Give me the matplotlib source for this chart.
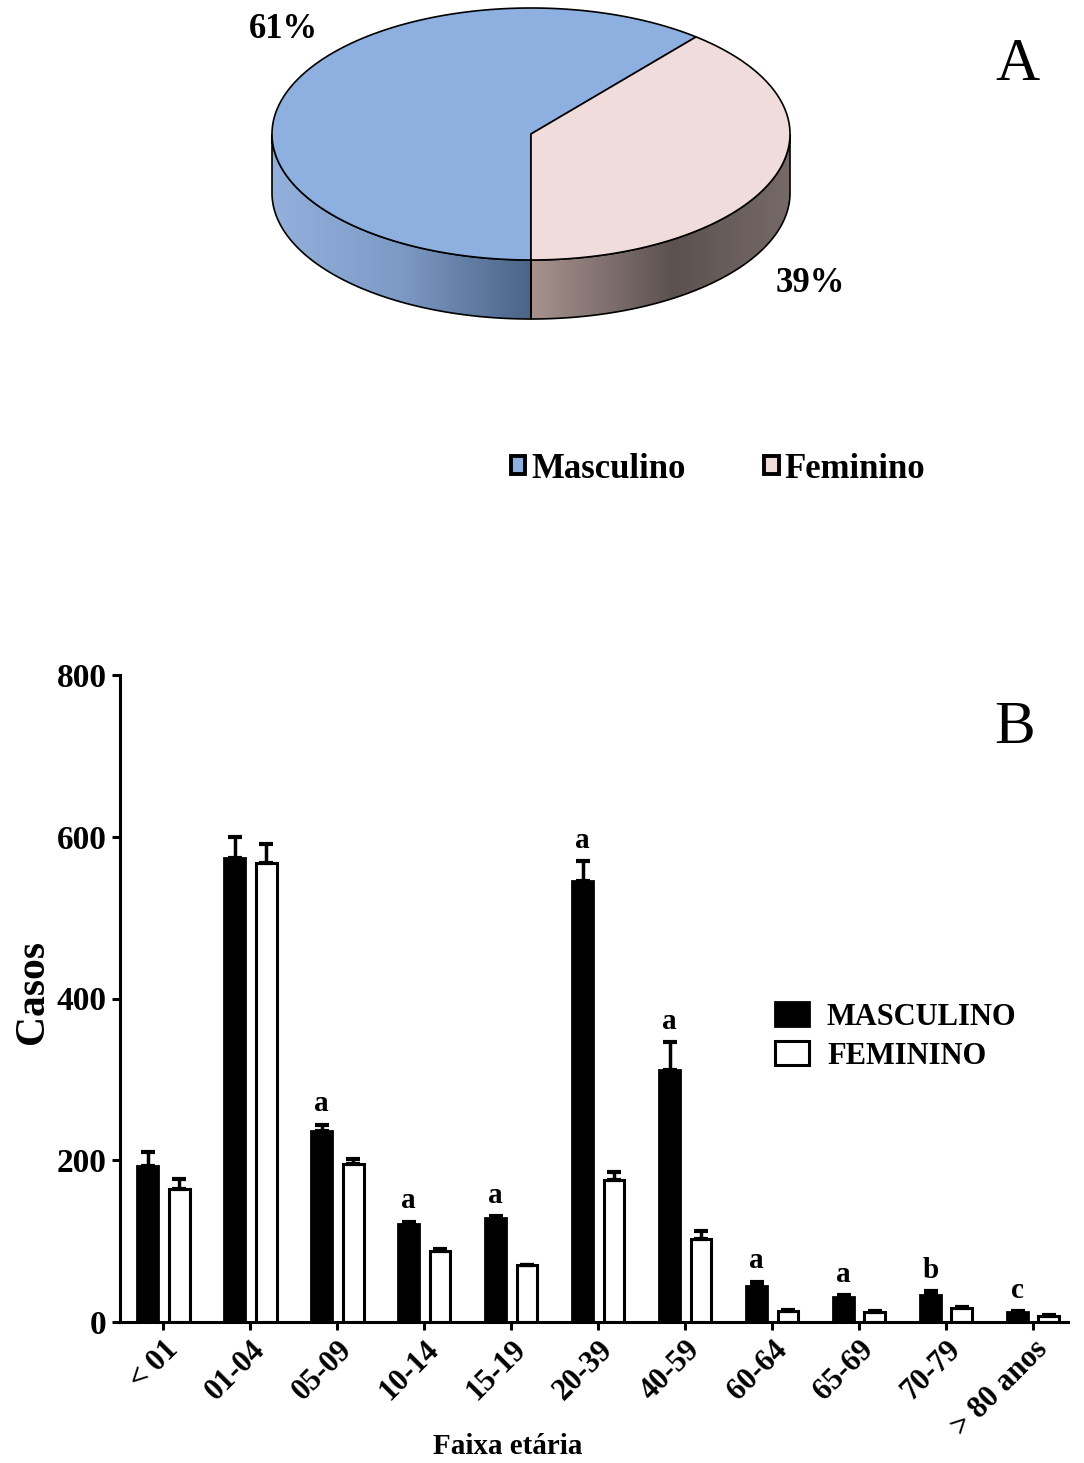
import numpy as np
import matplotlib
matplotlib.use("Agg")
import matplotlib.pyplot as plt
from matplotlib.patches import Polygon, Patch
from matplotlib.colors import LinearSegmentedColormap

plt.rcParams['font.family'] = ['Liberation Serif', 'DejaVu Serif']
plt.rcParams['font.weight'] = 'bold'

# Data (A): share of cases by sex
sexes = ["Masculino", "Feminino"]
sex_pct = [61, 39]

# Data (B): cases by age group
age_groups = ["< 01", "01-04", "05-09", "10-14", "15-19", "20-39",
              "40-59", "60-64", "65-69", "70-79", "> 80 anos"]
male_cases = [193, 574, 236, 121, 129, 545, 311, 44, 31, 34, 12]
male_err = [17, 26, 8, 3, 2, 25, 35, 6, 2, 4, 1]
female_cases = [165, 568, 195, 88, 70, 176, 103, 14, 12, 17, 8]
female_err = [12, 23, 6, 2, 1, 10, 10, 1, 1, 1, 1]
male_letters = ["", "", "a", "a", "a", "a", "a", "a", "a", "b", "c"]

blue_top = '#8db0e0'
pink_top = '#f0dcdb'

W, H = 1084, 1463
fig = plt.figure(figsize=(W / 100, H / 100), dpi=100)

# ---- A: 3D-looking pie ----
ax_pie = fig.add_axes([0, 1 - 360 / H, 1, 360 / H])
ax_pie.set_xlim(0, W)
ax_pie.set_ylim(360, 0)
ax_pie.axis('off')

cx, cy, a, b, depth = 531, 134, 259, 126, 59


def ell(t_deg):
    t = np.radians(t_deg)
    return cx + a * np.cos(t), cy - b * np.sin(t)


fracs = np.array(sex_pct) / sum(sex_pct)
t_fem0 = 270.0
t_fem1 = t_fem0 + 360 * fracs[1]
slices = [(t_fem1 - 360, t_fem0), (t_fem0, t_fem1)]  # Masculino, Feminino
side_cmaps = [
    LinearSegmentedColormap.from_list('bs', ['#93b1dc', '#7d9ac5', '#4b6487']),
    LinearSegmentedColormap.from_list('ps', [(0, '#a8928f'), (0.55, '#5b5250'), (1, '#756a67')]),
]

# side walls (only the front half is visible)
for (t0, t1), cmap in zip(slices, side_cmaps):
    lo, hi = max(t0, 180), min(t1, 360)
    if hi <= lo:
        continue
    ts = np.linspace(lo, hi, 200)
    xs, ys = ell(ts)
    pts = np.vstack([np.column_stack([xs, ys]), np.column_stack([xs[::-1], ys[::-1] + depth])])
    poly = Polygon(pts, closed=True, facecolor='none', edgecolor='black', lw=1.2, zorder=3)
    ax_pie.add_patch(poly)
    grad = cmap(np.linspace(0, 1, 256))[None, :, :3]
    im = ax_pie.imshow(grad, extent=[xs.min(), xs.max(), ys.max() + depth, ys.min()],
                       aspect='auto', zorder=2)
    im.set_clip_path(poly)

# top face
for (t0, t1), col in zip(slices, [blue_top, pink_top]):
    ts = np.linspace(t0, t1, 300)
    xs, ys = ell(ts)
    pts = np.vstack([[cx, cy], np.column_stack([xs, ys])])
    ax_pie.add_patch(Polygon(pts, closed=True, facecolor=col, edgecolor='black', lw=1.2, zorder=4))

ax_pie.set_xlim(0, W)
ax_pie.set_ylim(360, 0)
ax_pie.text(283, 30, f"{sex_pct[0]}%", fontsize=25, ha='center', va='center')
ax_pie.text(810, 283, f"{sex_pct[1]}%", fontsize=25, ha='center', va='center')

fig.legend(handles=[Patch(facecolor=blue_top, edgecolor='black', lw=2.8),
                    Patch(facecolor=pink_top, edgecolor='black', lw=2.8)],
           labels=sexes, loc='center', bbox_to_anchor=(718 / W, 1 - 469 / H), ncol=2,
           frameon=False, fontsize=25, handlelength=0.42, handleheight=0.42,
           handletextpad=0.18, columnspacing=2.25)

fig.text(1018 / W, 1 - 65 / H, 'A', fontsize=44, fontweight='normal', ha='center', va='center')

# ---- B: bars by age group ----
ax = fig.add_axes([120 / W, 141 / H, 948 / W, 647 / H])
x = np.arange(len(age_groups))
n = len(x)
bw = 0.24
off = 0.18

ax.bar(x - off, male_cases, bw, color='black', edgecolor='black', lw=2, label='MASCULINO')
ax.bar(x + off, female_cases, bw, color='white', edgecolor='black', lw=2.2, label='FEMININO')
ax.errorbar(x - off, male_cases, yerr=[np.zeros(n), male_err], fmt='none', ecolor='black',
            elinewidth=2.5, capsize=5, capthick=3)
ax.errorbar(x + off, female_cases, yerr=[np.zeros(n), female_err], fmt='none', ecolor='black',
            elinewidth=2.5, capsize=5, capthick=3)

for i, s in enumerate(male_letters):
    if s:
        ax.annotate(s, (x[i] - off, male_cases[i] + male_err[i]), xytext=(0, 15),
                    textcoords='offset points', ha='center', va='center', fontsize=21)

ax.set_xlim(-0.5, 10.4)
ax.set_ylim(0, 800)
ax.set_yticks([0, 200, 400, 600, 800])
ax.set_xticks(x)
ax.set_xticklabels(age_groups, rotation=45, ha='right', va='top', rotation_mode='anchor', fontsize=22)
ax.tick_params(direction='out', length=6, width=2.2, labelsize=24)
ax.tick_params(axis='x', labelsize=22)
for side in ['top', 'right']:
    ax.spines[side].set_visible(False)
for side in ['left', 'bottom']:
    ax.spines[side].set_linewidth(2.2)

ax.legend(loc='upper left', bbox_to_anchor=(775 / W, 1 - 1002 / H), bbox_transform=fig.transFigure,
          frameon=False, fontsize=22, handlelength=1.1, handleheight=0.85, handletextpad=0.6,
          labelspacing=0.3, borderpad=0, borderaxespad=0)

fig.text(33 / W, 1 - 992 / H, 'Casos', rotation=90, ha='center', va='center', fontsize=30)
fig.text(508 / W, 1 - 1447 / H, 'Faixa etária', ha='center', va='center', fontsize=21)
fig.text(1015 / W, 1 - 728 / H, 'B', fontsize=44, fontweight='normal', ha='center', va='center')

fig.savefig('out.png', dpi=100)
